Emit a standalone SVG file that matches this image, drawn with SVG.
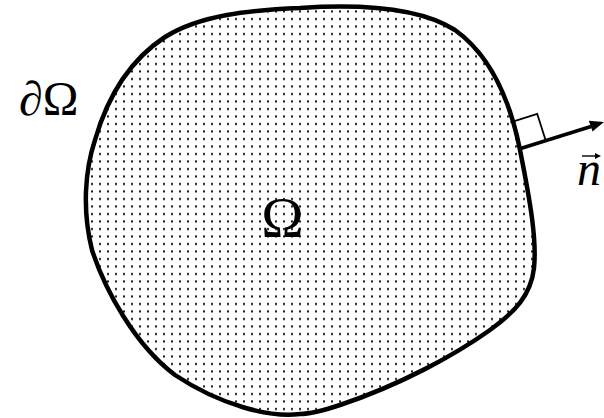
<svg xmlns="http://www.w3.org/2000/svg" width="604" height="418" viewBox="0 0 604 418">
  <style>
    .lbl { font-family: "Liberation Serif", "Times New Roman", serif; fill: #000; }
    .edge { fill: url(#dots); stroke: #000; stroke-width: 4.5; stroke-linejoin: round; }
    .vec { stroke: #000; stroke-width: 3.5; fill: none; }
    .sq { stroke: #000; stroke-width: 1.8; fill: none; }
  </style>
  <defs>
    <pattern id="dots" patternUnits="userSpaceOnUse" x="0" y="0" width="8" height="7.5">
      <rect width="8" height="7.5" fill="#fff"/>
      <rect x="3" y="3" width="2" height="2" fill="#111"/>
    </pattern>
  </defs>
  <rect width="604" height="418" fill="#fff"/>
  <g id="domain">
    <path class="edge" d="M 300,8 C 360,4 420,8 455,30 C 490,55 510,100 520,150 C 530,200 537,240 534,268 C 531,295 515,312 490,330 C 455,355 400,385 340,405 C 325,410 310,414 300,414 C 270,418 220,405 175,375 C 135,345 105,290 92,250 C 82,210 85,170 95,140 C 108,95 130,60 165,37 C 200,15 250,10 300,8 Z"/>
  </g>
  <g id="normal">
    <polyline class="sq" points="510.5,122.3 537.2,113.8 545.7,140.5"/>
    <line class="vec" x1="519" y1="149" x2="591" y2="126.5"/>
    <polygon points="604,122 592.5,131.5 588.8,120.8" fill="#000"/>
  </g>
  <g id="label-boundary">
    <text class="lbl" x="19" y="115" font-size="48"><tspan font-style="italic">∂</tspan>Ω</text>
  </g>
  <g id="label-omega">
    <text class="lbl" x="282.5" y="237" font-size="57" text-anchor="middle">Ω</text>
  </g>
  <g id="label-n">
    <text class="lbl" x="577" y="185" font-size="48" font-style="italic">n</text>
    <line x1="582" y1="156" x2="597" y2="156" stroke="#000" stroke-width="1.4"/>
    <polygon points="601,156 595,153 595,159" fill="#000"/>
  </g>
</svg>
